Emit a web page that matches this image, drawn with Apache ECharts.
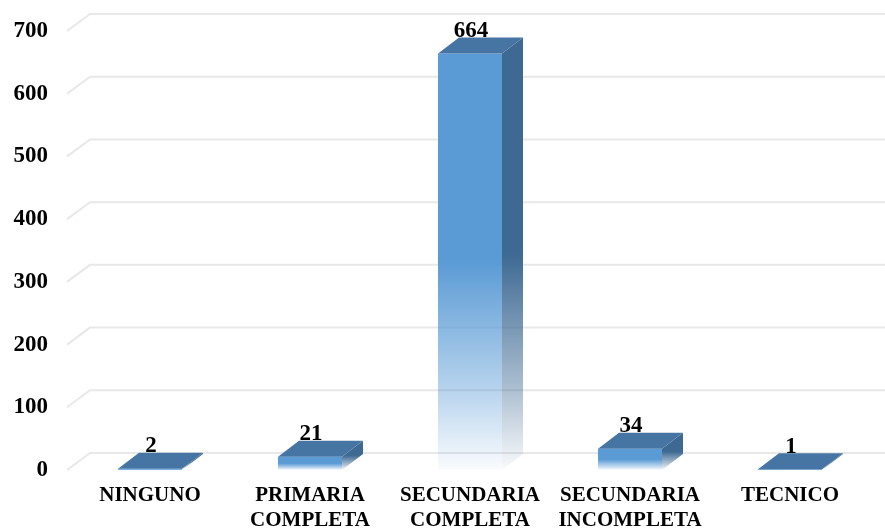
<!DOCTYPE html>
<html>
<head>
<meta charset="utf-8">
<title>Nivel educativo</title>
<script src="https://cdn.jsdelivr.net/npm/echarts@6/dist/echarts.min.js"></script>
<style>
  html, body { margin: 0; padding: 0; background: #ffffff; }
  #chart { width: 885px; height: 528px; }
</style>
</head>
<body>
<div id="chart"></div>
<script>
// Education level counts
const categories = ['NINGUNO', 'PRIMARIA COMPLETA', 'SECUNDARIA COMPLETA', 'SECUNDARIA INCOMPLETA', 'TECNICO'];
const values = [2, 21, 664, 34, 1];
const gridValues = [0, 100, 200, 300, 400, 500, 600, 700];

// Oblique depth of the pseudo-3D bars and back wall
const DEPTH_X = 21;
const DEPTH_Y = -16;
const SERIF = '"Liberation Serif", "Times New Roman", serif';

const FRONT = '#5B9BD5';
const TOP = '#4675A4';
const SIDE = '#3D6992';

function fade(color) {
  return new echarts.graphic.LinearGradient(0, 0, 0, 1, [
    { offset: 0, color: color },
    { offset: 0.5, color: color },
    { offset: 0.8, color: echarts.color.modifyAlpha(color, 0.45) },
    { offset: 1, color: echarts.color.modifyAlpha(color, 0.03) }
  ]);
}

const chart = echarts.init(document.getElementById('chart'), null, { renderer: 'canvas' });

chart.setOption({
  backgroundColor: '#ffffff',
  animation: false,
  grid: { left: 70, right: 15, top: 31, bottom: 58, containLabel: false, outerBoundsMode: 'none' },
  xAxis: {
    type: 'category',
    data: categories,
    axisLine: { show: false },
    axisTick: { show: false },
    splitLine: { show: false },
    axisLabel: {
      margin: 13,
      interval: 0,
      color: '#000000',
      fontFamily: SERIF,
      fontWeight: 'bold',
      fontSize: 21,
      lineHeight: 25,
      formatter: function (v) { return v.replace(' ', '\n'); }
    }
  },
  yAxis: {
    type: 'value',
    min: 0,
    max: 700,
    interval: 100,
    axisLine: { show: false },
    axisTick: { show: false },
    splitLine: { show: false },
    axisLabel: {
      margin: 22,
      color: '#000000',
      fontFamily: SERIF,
      fontWeight: 'bold',
      fontSize: 23
    }
  },
  series: [
    {
      // back wall gridlines with their short receding segment on the left
      type: 'custom',
      z: 1,
      silent: true,
      clip: false,
      data: gridValues.map(function (v) { return [0, v]; }),
      renderItem: function (params, api) {
        const cs = params.coordSys;
        const y = api.coord([0, api.value(1)])[1];
        const x0 = cs.x - 3;
        return {
          type: 'polyline',
          shape: {
            points: [
              [x0, y],
              [x0 + DEPTH_X + 2, y + DEPTH_Y - 1],
              [cs.x + cs.width + 40, y + DEPTH_Y - 1]
            ]
          },
          style: { stroke: '#e8e8e8', lineWidth: 2, fill: null }
        };
      }
    },
    {
      type: 'custom',
      z: 3,
      clip: false,
      data: values.map(function (v, i) { return [i, v]; }),
      renderItem: function (params, api) {
        const i = api.value(0);
        const v = api.value(1);
        const top = api.coord([i, v]);
        const base = api.coord([i, 0]);
        const band = api.size([1, 0])[0];
        const w = band * 0.4;
        const xL = top[0] - w / 2;
        const xR = top[0] + w / 2;
        const yT = top[1];
        const yB = base[1];
        return {
          type: 'group',
          children: [
            {
              type: 'polygon',
              shape: { points: [[xR, yT], [xR + DEPTH_X, yT + DEPTH_Y], [xR + DEPTH_X, yB + DEPTH_Y], [xR, yB]] },
              style: { fill: fade(SIDE) }
            },
            {
              type: 'rect',
              shape: { x: xL, y: yT, width: w, height: Math.max(yB - yT, 0.01) },
              style: { fill: fade(FRONT) }
            },
            {
              type: 'polygon',
              shape: { points: [[xL, yT], [xL + DEPTH_X, yT + DEPTH_Y], [xR + DEPTH_X, yT + DEPTH_Y], [xR, yT]] },
              style: { fill: TOP }
            },
            {
              type: 'text',
              z2: 10,
              style: {
                text: String(v),
                x: top[0] + 1,
                y: yT + DEPTH_Y + 5,
                align: 'center',
                verticalAlign: 'bottom',
                fill: '#000000',
                font: 'bold 23px ' + SERIF
              }
            }
          ]
        };
      }
    }
  ]
});
</script>
</body>
</html>
